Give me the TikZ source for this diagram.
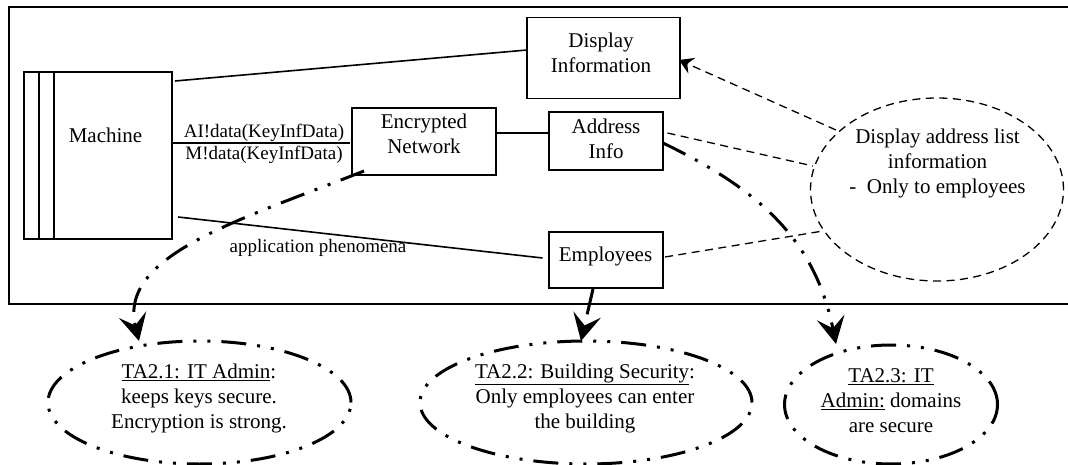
\documentclass[tikz,border=0pt]{standalone}
\usepackage{fontspec}
\setmainfont{Liberation Serif}
\usetikzlibrary{arrows.meta,shapes.geometric}
\newcommand{\ul}[1]{\underline{#1}}
\tikzset{
  x=1pt,y=-1pt,
  box/.style={draw,line width=1.6pt,inner sep=0pt},
  txt/.style={font=\fontsize{21}{25}\selectfont,inner sep=0pt,align=center},
  lbl/.style={font=\fontsize{19}{22}\selectfont,inner sep=0pt},
  conn/.style={line width=1.6pt},
  dashc/.style={line width=1.3pt,dash pattern=on 8pt off 5.5pt},
  heavy/.style={line width=3pt,dash pattern=on 25pt off 11pt on 3pt off 11pt on 3pt off 11pt},
  ell/.style={ellipse,draw,inner sep=0pt},
  tip/.style={-{Stealth[length=27pt,width=28pt,inset=11pt]}},
  tipb/.style={-{Stealth[length=14pt,width=17pt,inset=5pt]}},
}
\begin{document}
\begin{tikzpicture}
\useasboundingbox (0,0) rectangle (1068,465);
\draw[line width=1.6pt] (1068,7) -- (9,7) -- (9,304) -- (1068,304);
\node[box,minimum width=148pt,minimum height=167pt] (m) at (98,155.5) {};
\draw[conn] (39,72)--(39,239) (54,72)--(54,239);
\node[txt] (mt) at (105.5,135) {Machine};
\node[box,minimum width=144pt,minimum height=67pt] (en) at (424,141.5) {};
\node[txt] (ent) at (424,133.5) {Encrypted\\Network};
\node[box,minimum width=153pt,minimum height=81pt] (di) at (603.5,58) {};
\node[txt] (dit) at (601,53) {Display\\Information};
\node[box,minimum width=114pt,minimum height=58pt] (ai) at (606,141) {};
\node[txt] (ait) at (606,138.5) {Address\\Info};
\node[box,minimum width=114pt,minimum height=56pt] (em) at (606,260) {};
\node[txt] (emt) at (605.5,256) {Employees};
\node[ell,dashc,minimum width=253pt,minimum height=183pt] (da) at (937,189.5) {};
\node[txt] (dat) at (937.5,163) {Display address list\\information\\-\ \ Only to employees};
\node[ell,heavy,minimum width=303pt,minimum height=123pt] (t1) at (199.5,402.5) {};
\node[txt] (t1t) at (199,398) {\ul{TA2.1: IT Admin}:\\keeps keys secure.\\Encryption is strong.};
\node[ell,heavy,minimum width=332pt,minimum height=123pt] (t2) at (586,402.5) {};
\node[txt] (t2t) at (585,398) {\ul{TA2.2: Building Security}:\\Only employees can enter\\the building};
\node[ell,heavy,minimum width=213pt,minimum height=119pt] (t3) at (891,404.5) {};
\node[txt] (t3t) at (891,401) {\ul{TA2.3: IT}\\\ul{Admin:} domains\\are secure};
\coordinate (a1) at (175,81); \coordinate (a2) at (527,50);
\draw[conn] (a1)--(a2);
\coordinate (c1) at (350,143);
\draw[conn] (m.east |- c1) -- (c1);
\node[lbl] (l1) at (264,133) {AI!data(KeyInfData)};
\node[lbl] (l2) at (264,155) {M!data(KeyInfData)};
\coordinate (b1) at (178,217); \coordinate (b2) at (542.5,258);
\draw[conn] (b1)--(b2);
\node[lbl] (l3) at (318,248) {application phenomena};
\coordinate (c2) at (496,133);
\draw[conn] (c2) -- (ai.west |- c2);
\coordinate (d1) at (836,130); \coordinate (d2) at (679,60);
\draw[dashc,tipb] (d1)--(d2);
\coordinate (d3) at (667.5,133); \coordinate (d4) at (813,166);
\draw[dashc] (d3)--(d4);
\coordinate (d5) at (665,257); \coordinate (d6) at (823,231);
\draw[dashc] (d5)--(d6);
\coordinate (h1) at (364,171); \coordinate (h2) at (139,341);
\draw[heavy,tip] (h1) .. controls (240,220) and (118,255) .. (h2);
\coordinate (h3) at (593,289); \coordinate (h4) at (581,341);
\draw[line width=3pt,dash pattern=on 26pt off 100pt,tip] (h3)--(h4);
\coordinate (h5) at (663,143); \coordinate (h6) at (836,344);
\draw[heavy,tip] (h5) .. controls (760,190) and (815,240) .. (h6);
\end{tikzpicture}
\end{document}
